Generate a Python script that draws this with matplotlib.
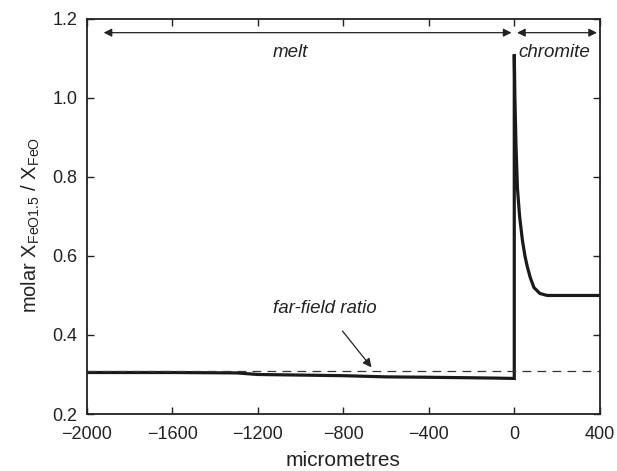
import matplotlib
matplotlib.use('Agg')
import matplotlib.pyplot as plt

plt.rcParams['font.family'] = ['Liberation Sans', 'DejaVu Sans']

# profile across the melt / chromite interface
dist = [-2000, -1600, -1300, -1200, -800, -600, -400, -100, 0,
        0, 3, 8, 15, 25, 38, 50, 60, 75, 92, 120, 154, 400]
ratio = [0.305, 0.305, 0.304, 0.300, 0.297, 0.294, 0.293, 0.291, 0.290,
         1.11, 1.0, 0.88, 0.77, 0.70, 0.64, 0.60, 0.575, 0.545, 0.52, 0.505, 0.50, 0.50]
far_field = 0.309

xticks = [-2000, -1600, -1200, -800, -400, 0, 400]
yticks = [0.2, 0.4, 0.6, 0.8, 1.0, 1.2]

fig = plt.figure(figsize=(6.17, 4.71), dpi=100)
ax = fig.add_axes([0.141, 0.121, 0.831, 0.839])

ax.plot(dist, ratio, color='#1a1a1a', lw=2.3, solid_joinstyle='miter')
ax.axhline(far_field, color='#333333', lw=0.9, ls=(0, (7, 5)))

# region arrows
ax.annotate('', xy=(-1935, 1.165), xytext=(0, 1.165),
            arrowprops=dict(arrowstyle='<|-|>', color='#222222', lw=0.9, mutation_scale=12))
ax.annotate('', xy=(0, 1.165), xytext=(400, 1.165),
            arrowprops=dict(arrowstyle='<|-|>', color='#222222', lw=0.9, mutation_scale=12))
ax.text(-1050, 1.116, 'melt', style='italic', ha='center', va='center', fontsize=13.5, color='#222222')
ax.text(185, 1.116, 'chromite', style='italic', ha='center', va='center', fontsize=13.5, color='#222222')

ax.annotate('far-field ratio', xy=(-668, 0.318), xytext=(-887, 0.466),
            ha='center', va='center', style='italic', fontsize=13.5, color='#222222',
            arrowprops=dict(arrowstyle='-|>', color='#222222', lw=0.9, mutation_scale=13,
                            shrinkA=10, shrinkB=0))

ax.set_xlim(-2000, 400)
ax.set_ylim(0.2, 1.2)
ax.set_xticks(xticks)
ax.set_xticklabels(['\u22122000', '\u22121600', '\u22121200', '\u2212800', '\u2212400', '0', '400'])
ax.set_yticks(yticks)
ax.set_yticklabels(['0.2', '0.4', '0.6', '0.8', '1.0', '1.2'])
ax.tick_params(direction='in', top=True, right=True, length=5, width=1,
               labelsize=13, colors='#222222')
ax.tick_params(axis='x', pad=8.5)
ax.tick_params(axis='y', pad=7)
for s in ax.spines.values():
    s.set_linewidth(1.3)
    s.set_color('#222222')

ax.set_xlabel('micrometres', fontsize=15, color='#222222', labelpad=6)
ax.set_ylabel(r'molar X$_{\mathregular{FeO1.5}}$ / X$_{\mathregular{FeO}}$', fontsize=14.5,
              color='#222222')
ax.yaxis.set_label_coords(-0.088, 0.478)

fig.savefig('out.png', dpi=100)
